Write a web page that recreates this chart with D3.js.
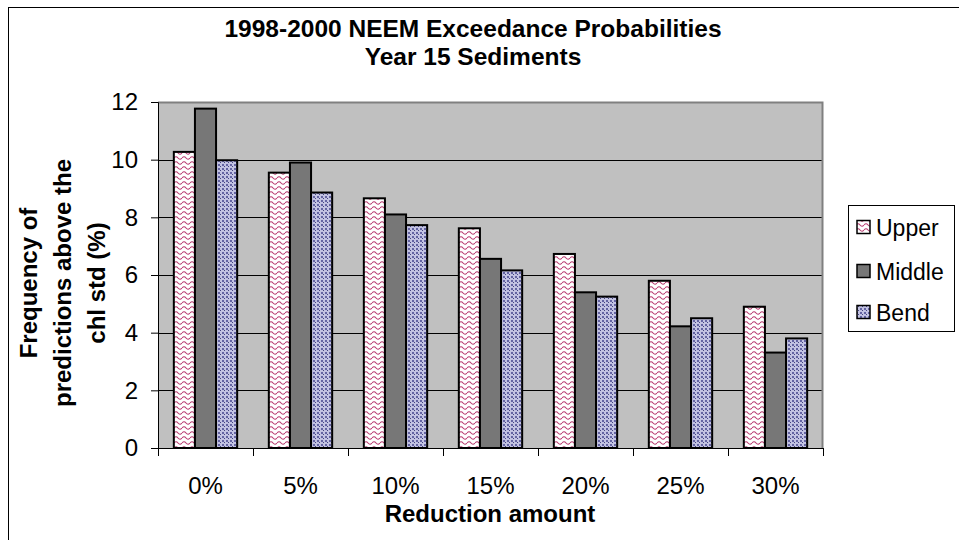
<!DOCTYPE html>
<html>
<head>
<meta charset="utf-8">
<script src="https://cdn.jsdelivr.net/npm/d3@7"></script>
<style>
  body { margin: 0; background: #fff; }
  text { font-family: Arial, "Liberation Sans", sans-serif; fill: #000; }
</style>
</head>
<body>
<svg id="viz-container" width="959" height="540"></svg>
<script>
// chart values
var categories = ["0%", "5%", "10%", "15%", "20%", "25%", "30%"];
var series = ["Upper", "Middle", "Bend"];
var upper = [10.27, 9.55, 8.66, 7.62, 6.73, 5.8, 4.9];
var middle = [11.77, 9.9, 8.1, 6.56, 5.4, 4.22, 3.31];
var bend = [9.98, 8.86, 7.73, 6.16, 5.25, 4.5, 3.8];
var yTicks = [0, 2, 4, 6, 8, 10, 12];

var svg = d3.select("#viz-container");

// plot area box
var plotLeft = 158
  , plotRight = 823
  , plotTop = 102
  , plotBottom = 448;

// patterns for the bars
var defs = svg.append("defs");
var pUpper = defs.append("pattern")
  .attr("id", "pat-upper")
  .attr("patternUnits", "userSpaceOnUse")
  .attr("width", 8).attr("height", 5);
pUpper.append("rect").attr("width", 8).attr("height", 5).attr("fill", "#fff");
pUpper.append("path")
  .attr("d", "M0,3 Q2,0.5 4,3 T8,3")
  .attr("fill", "none")
  .attr("stroke", "#b8386e")
  .attr("stroke-width", 1.1);

var pBend = defs.append("pattern")
  .attr("id", "pat-bend")
  .attr("patternUnits", "userSpaceOnUse")
  .attr("width", 4).attr("height", 4);
pBend.append("rect").attr("width", 4).attr("height", 4).attr("fill", "#c2c2e2");
pBend.append("rect").attr("width", 2).attr("height", 2).attr("fill", "#6464a2");
pBend.append("rect").attr("x", 2).attr("y", 2).attr("width", 1).attr("height", 1).attr("fill", "#44447f");

var fills = {"Upper": "url(#pat-upper)", "Middle": "#777777", "Bend": "url(#pat-bend)"};

// outer chart border
svg.append("rect")
  .attr("x", 8.5).attr("y", 7.5)
  .attr("width", 960).attr("height", 540)
  .attr("fill", "none")
  .attr("stroke", "#000");

// scales
var x0 = d3.scaleBand()
  .domain(categories)
  .range([plotLeft, plotRight]);
var barW = x0.step() / 4.5;
var x1 = d3.scaleBand()
  .domain(series)
  .range([barW * 0.75, barW * 3.75]);
var y = d3.scaleLinear()
  .domain([0, 12])
  .range([plotBottom, plotTop]);

// gray plot background
svg.append("rect")
  .attr("x", plotLeft).attr("y", plotTop)
  .attr("width", plotRight - plotLeft).attr("height", plotBottom - plotTop)
  .attr("fill", "#c0c0c0");

// gridlines
svg.append("g")
  .selectAll("line")
  .data(yTicks.slice(1, -1))
 .enter().append("line")
  .attr("x1", plotLeft).attr("x2", plotRight)
  .attr("y1", d => Math.round(y(d)) + 0.5)
  .attr("y2", d => Math.round(y(d)) + 0.5)
  .attr("stroke", "#000");

// plot border top/right in gray
svg.append("path")
  .attr("d", "M" + plotLeft + "," + (plotTop + 0.5) + "H" + (plotRight - 0.5) + "V" + plotBottom)
  .attr("fill", "none")
  .attr("stroke", "#808080")
  .attr("stroke-width", 2);

// bars
var rows = categories.map((c, i) => ({cat: c, vals: [upper[i], middle[i], bend[i]]}));
svg.append("g")
  .selectAll("g")
  .data(rows)
 .enter().append("g")
  .attr("transform", d => "translate(" + x0(d.cat) + ",0)")
  .selectAll("rect")
  .data(d => d.vals.map((v, j) => ({key: series[j], value: v})))
 .enter().append("rect")
  .attr("x", d => x1(d.key))
  .attr("width", x1.bandwidth())
  .attr("y", d => y(d.value))
  .attr("height", d => plotBottom - y(d.value))
  .attr("fill", d => fills[d.key])
  .attr("stroke", "#000")
  .attr("stroke-width", 2);

// y axis
var yAxis = svg.append("g")
  .attr("transform", "translate(" + plotLeft + ",0)")
  .call(d3.axisLeft(y).tickValues(yTicks).tickSize(7).tickPadding(13));
yAxis.selectAll("text").style("font-size", "24px").attr("font-family", null);
yAxis.selectAll("line,path").attr("stroke", "#000");

// x axis: ticks on category boundaries, labels at centers
var xb = d3.scaleLinear().domain([0, categories.length]).range([plotLeft, plotRight]);
var xAxis = svg.append("g")
  .attr("transform", "translate(0," + plotBottom + ")")
  .call(d3.axisBottom(xb).tickValues(d3.range(categories.length + 1)).tickFormat("").tickSize(8).tickSizeOuter(0));
xAxis.selectAll("line,path").attr("stroke", "#000");

svg.append("g")
  .selectAll("text")
  .data(categories)
 .enter().append("text")
  .attr("x", d => x0(d) + x0.bandwidth() / 2)
  .attr("y", 494)
  .attr("text-anchor", "middle")
  .style("font-size", "24px")
  .text(d => d);

// titles
var title = svg.append("text")
  .attr("text-anchor", "middle")
  .style("font-size", "24.5px")
  .style("font-weight", "bold");
title.append("tspan").attr("x", 473).attr("y", 37).text("1998-2000 NEEM Exceedance Probabilities");
title.append("tspan").attr("x", 473).attr("y", 65).text("Year 15 Sediments");

svg.append("text")
  .attr("x", 490).attr("y", 522)
  .attr("text-anchor", "middle")
  .style("font-size", "24px")
  .style("font-weight", "bold")
  .text("Reduction amount");

var yLabel = svg.append("text")
  .attr("transform", "translate(0,283) rotate(-90)")
  .attr("text-anchor", "middle")
  .style("font-size", "24px")
  .style("font-weight", "bold");
[["Frequency of", 37], ["predictions above the", 71], ["chl std (%)", 105]].forEach(function(l) {
  yLabel.append("tspan").attr("x", 0).attr("y", l[1]).text(l[0]);
});

// legend
var legend = svg.append("g");
legend.append("rect")
  .attr("x", 848.5).attr("y", 205.5)
  .attr("width", 106).attr("height", 126)
  .attr("fill", "#fff")
  .attr("stroke", "#000");
var items = legend.selectAll(".item")
  .data(series)
 .enter().append("g")
  .attr("class", "item")
  .attr("transform", (d, i) => "translate(0," + [227, 271, 312][i] + ")");
items.append("rect")
  .attr("x", 857).attr("y", -6.5)
  .attr("width", 13).attr("height", 13)
  .attr("fill", d => fills[d])
  .attr("stroke", "#000")
  .attr("stroke-width", 1.5);
items.append("text")
  .attr("x", 876).attr("y", 8.5)
  .style("font-size", "23px")
  .text(d => d);
</script>
</body>
</html>
